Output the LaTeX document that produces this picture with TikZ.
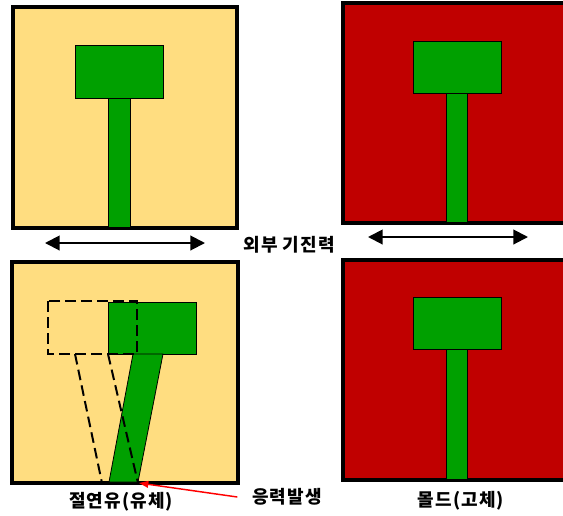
\documentclass[tikz,border=0pt]{standalone}
\usepackage{fontspec}
\newfontfamily\kofont[LetterSpace=6]{Noto Sans CJK KR}
\usepackage{tikz}
\usetikzlibrary{arrows.meta,positioning}
\definecolor{oil}{HTML}{FFDD80}
\definecolor{mold}{HTML}{C00000}
\definecolor{pin}{HTML}{00A000}
\tikzset{
oilbox/.style={
draw,
line width=2.8pt,
fill=oil
},
moldbox/.style={
draw,
line width=2.8pt,
fill=mold
},
part/.style={
draw,
line width=0.6pt,
fill=pin
},
ghost/.style={
draw,
line width=1.5pt,
dash pattern=on 8pt off 4pt
},
txt/.style={
font=\kofont\bfseries\fontsize{13.5}{15}\selectfont,
inner sep=0pt
},
shake/.style={
{Triangle[length=11pt,width=11pt]}-{Triangle[length=11pt,width=11pt]},
line width=1.5pt
},
stressarrow/.style={
-{Triangle[length=7pt,width=5pt]},
red,
line width=1.1pt
}
}
\begin{document}
\begin{tikzpicture}[x=0.75pt,y=-0.75pt]
\useasboundingbox (0,0) rectangle (563,515);
\clip (0,0) rectangle (563,515);

% fluid, at rest
\draw[oilbox] (13,7) rectangle (237,228);
\draw[part] (75,45) rectangle (163,98);
\draw[part] (108,98) rectangle (130,227);

% mold, at rest
\draw[moldbox] (343,3) rectangle (580,223);
\draw[part] (413,41) rectangle (501,93);
\draw[part] (446,93) rectangle (467,222);

% excitation
\coordinate (l1) at (45,243);
\coordinate (r1) at (205,243);
\draw[shake] (l1) -- (r1);
\node[txt] (force) at (289,245) {외부 기진력};
\coordinate (l2) at (368,237);
\coordinate (r2) at (528,237);
\draw[shake] (l2) -- (r2);

% fluid, shaken
\draw[oilbox] (12,262) rectangle (238,483);
\draw[part] (108,302) rectangle (196,354);
\draw[part] (133,354) -- (163,354) -- (138,482) -- (109,482) -- cycle;
\draw[ghost] (48,301) rectangle (137,354);
\draw[ghost] (75,354) -- (102,483);
\draw[ghost] (108,354) -- (138,483);
\coordinate (tip) at (139,483);

% mold, shaken
\draw[moldbox] (343,260) rectangle (580,480);
\draw[part] (413,297) rectangle (501,349);
\draw[part] (446,349) rectangle (467,479);

% labels
\node[txt] (oil) at (121,502) {절연유(유체)};
\node[txt,anchor=west] (stress) at (252,497) {응력발생};
\node[txt] (moldlbl) at (461,501) {몰드(고체)};
\draw[stressarrow] ([xshift=-11pt]stress.west) -- (tip);
\end{tikzpicture}
\end{document}
